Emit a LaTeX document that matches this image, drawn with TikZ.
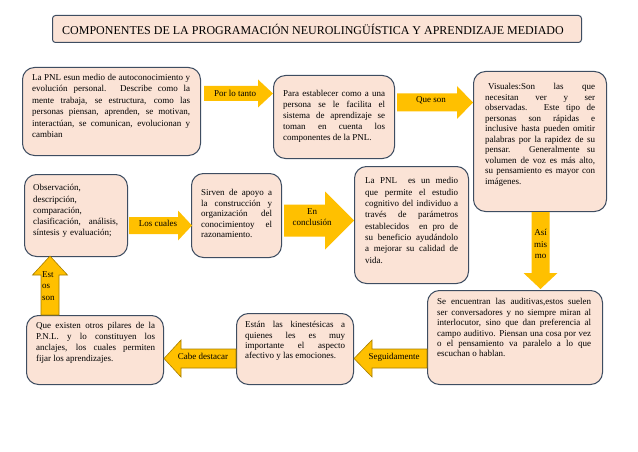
\documentclass[tikz,border=0pt]{standalone}
\usepackage{fontspec}
\setmainfont{Liberation Serif}
\usetikzlibrary{calc}
\definecolor{peach}{HTML}{FBE3D6}
\definecolor{edgec}{HTML}{3E4D61}
\definecolor{gold}{HTML}{FFC000}
\definecolor{goldedge}{HTML}{A57D00}
% #1 style, #2 start point, #3 angle, #4 length, #5 body half width, #6 head half width, #7 head length
\newcommand{\blockarrow}[7][goldfill]{%
  \path[#1, shift={#2}, rotate=#3] (0,#5) -- ({#4-#7},#5) -- ({#4-#7},#6) -- (#4,0)
    -- ({#4-#7},-#6) -- ({#4-#7},-#5) -- (0,-#5) -- cycle;}
\begin{document}
\begin{tikzpicture}[x=1pt, y=-1pt,
  box/.style={draw=edgec, line width=1pt, fill=peach, rounded corners=12pt, inner sep=0pt, anchor=north west},
  txt/.style={inner sep=0pt, anchor=north west, align=justify, text=black},
  lbl/.style={inner sep=0pt, text=black, font=\fontsize{9}{11}\selectfont},
  goldfill/.style={fill=gold},
  goldline/.style={fill=gold, draw=goldedge, line width=0.6pt}]
\useasboundingbox[fill=white] (0,0) rectangle (638,452);

% title
\node[box, rounded corners=3pt, minimum width=529pt, minimum height=27pt] (title) at (52,15) {};
\node[inner sep=0pt, font=\fontsize{12}{14}\selectfont] (ttl) at ($(title.center)+(-4,0)$)
  {COMPONENTES DE LA PROGRAMACIÓN NEUROLINGÜÍSTICA Y APRENDIZAJE MEDIADO};

% boxes
\node[box, minimum width=178pt, minimum height=88pt] (b1) at (22,67) {};
\node[box, minimum width=121pt, minimum height=83pt] (b2) at (273,75) {};
\node[box, minimum width=133pt, minimum height=140pt] (b3) at (473,71) {};
\node[box, minimum width=175pt, minimum height=94pt] (b4) at (427,290) {};
\node[box, minimum width=117pt, minimum height=71pt] (b5) at (236,313) {};
\node[box, minimum width=137pt, minimum height=69pt] (b6) at (26,315) {};
\node[box, minimum width=103pt, minimum height=82pt] (b7) at (24,174) {};
\node[box, minimum width=90pt, minimum height=84pt] (b8) at (191,173) {};
\node[box, minimum width=114pt, minimum height=117pt] (b9) at (354,166) {};

% texts
\node[txt, text width=158pt, font=\fontsize{9}{11.4}\selectfont] (t1) at (32,74)
 {La PNL esun medio de autoconocimiento y\linebreak evolución personal. Describe como la\linebreak mente trabaja, se estructura, como las\linebreak personas piensan, aprenden, se motivan,\linebreak interactúan, se comunican, evolucionan y\linebreak cambian};
\node[txt, text width=102pt, font=\fontsize{9}{10.8}\selectfont] (t2) at (283,90.5)
 {Para establecer como a una\linebreak persona se le facilita el\linebreak sistema de aprendizaje se\linebreak toman en cuenta los\linebreak componentes de la PNL.};
\node[txt, text width=110pt, font=\fontsize{9}{10.5}\selectfont] (t3) at (485,83.5)
 {\hspace*{3pt}Visuales:Son las que\linebreak necesitan ver y ser\linebreak observadas. Este tipo de\linebreak personas son rápidas e\linebreak inclusive hasta pueden omitir\linebreak palabras por la rapidez de su\linebreak pensar. Generalmente su\linebreak volumen de voz es más alto,\linebreak su pensamiento es mayor con\linebreak imágenes.};
\node[txt, text width=154pt, font=\fontsize{9}{10.4}\selectfont] (t4) at (437,298.5)
 {Se encuentran las auditivas,estos suelen\linebreak ser conversadores y no siempre miran al\linebreak interlocutor, sino que dan preferencia al\linebreak campo auditivo. Piensan una cosa por vez\linebreak o el pensamiento va paralelo a lo que\linebreak escuchan o hablan.};
\node[txt, text width=100pt, font=\fontsize{9}{10.3}\selectfont] (t5) at (245,321.5)
 {Están las kinestésicas a\linebreak quienes les es muy\linebreak importante el aspecto\linebreak afectivo y las emociones.};
\node[txt, text width=119pt, font=\fontsize{9}{10.7}\selectfont] (t6) at (36,322.5)
 {Que existen otros pilares de la\linebreak P.N.L. y lo constituyen los\linebreak anclajes, los cuales permiten\linebreak fijar los aprendizajes.};
\node[txt, align=left, text width=85pt, font=\fontsize{9}{11.2}\selectfont] (t7) at (33,184.5)
 {Observación,\\ descripción,\\ comparación,\\ clasificación,\hfill análisis,\\ síntesis y evaluación;};
\node[txt, text width=71pt, font=\fontsize{9}{10.5}\selectfont] (t8) at (201,189.5)
 {Sirven de apoyo a\linebreak la construcción y\linebreak organización del\linebreak conocimientoy el\linebreak razonamiento.};
\node[txt, text width=93pt, font=\fontsize{9}{11.3}\selectfont] (t9) at (365,177.5)
 {La PNL\ \ es un medio\linebreak que permite el estudio\linebreak cognitivo del individuo a\linebreak través de parámetros\linebreak establecidos\ \ en pro de\linebreak su beneficio ayudándolo\linebreak a mejorar su calidad de\linebreak vida.};

% arrow start points
\coordinate (a1) at ($(b1.east)+(3,-18)$);
\coordinate (a2) at ($(b2.east)+(2,-14.5)$);
\coordinate (a3) at ($(b3.south)+(0.5,0)$);
\coordinate (a4) at ($(b4.west)+(0,21)$);
\coordinate (a5) at ($(b5.west)+(0,9.5)$);
\coordinate (a6) at ($(b6.north west)+(24,0)$);
\coordinate (a7) at ($(b7.east)+(1,10)$);
\coordinate (a8) at ($(b8.east)+(2,5)$);

% block arrows
\blockarrow{(a1)}{0}{69}{7.5}{14}{15}
\blockarrow{(a2)}{0}{76}{9}{16.5}{16}
\blockarrow{(a3)}{-90}{77}{9}{17}{16}
\blockarrow[goldline]{(a4)}{180}{73}{9.5}{18.5}{18}
\blockarrow[goldline]{(a5)}{180}{72}{9.5}{18.5}{17}
\blockarrow[goldline]{(a6)}{90}{59}{9}{17.5}{19}
\blockarrow{(a7)}{0}{63}{8.5}{15}{14}
\blockarrow{(a8)}{0}{70}{16}{29}{29}

% arrow labels
\node[lbl] (l1) at ($(a1)+(31,0)$) {Por lo tanto};
\node[lbl] (l2) at ($(a2)+(34,-2)$) {Que son};
\node[lbl, align=center, font=\fontsize{9}{11.5}\selectfont] (l3) at ($(a3)+(0,32)$) {Así\\mis\\mo};
\node[lbl] (l4) at ($(a4)+(-33,-1)$) {Seguidamente};
\node[lbl] (l5) at ($(a5)+(-33,-2)$) {Cabe destacar};
\node[lbl, align=left, anchor=west, font=\fontsize{9}{11.5}\selectfont] (l6) at ($(a6)+(-8,-29)$) {Est\\os\\son};
\node[lbl] (l7) at ($(a7)+(29,-2)$) {Los cuales};
\node[lbl, align=center, font=\fontsize{9}{11}\selectfont] (l8) at ($(a8)+(28,-3.5)$) {En\\conclusión};
\end{tikzpicture}
\end{document}
